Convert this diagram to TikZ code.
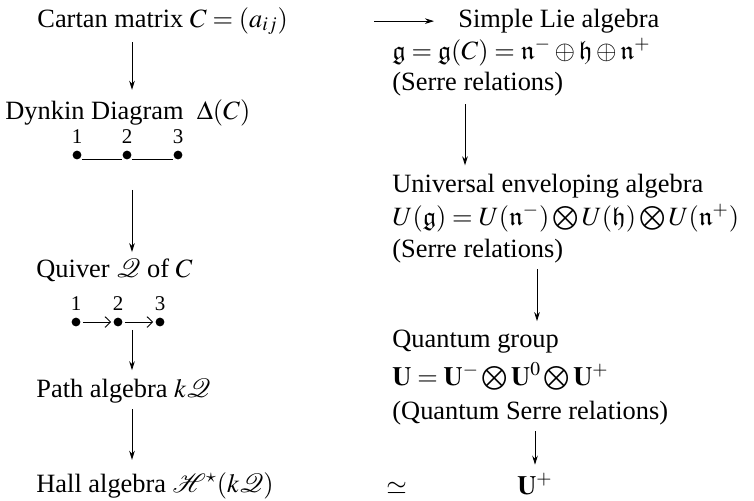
\documentclass[tikz,border=0pt]{standalone}
\usepackage{amssymb}
\usepackage{amsmath}
\usepackage{mathptmx}
\usepackage{fontspec}
\setmainfont{Liberation Serif}
\usetikzlibrary{arrows.meta, positioning, calc}
\tikzset{
  item_text/.style={font=\fontsize{13.2}{16}\selectfont, inner sep=0pt, anchor=base west},
  num_label/.style={font=\fontsize{10.5}{12}\selectfont, inner sep=0pt},
  vertex_dot/.style={circle, fill=black, inner sep=0pt, minimum size=4.4pt},
  map_arrow/.style={-{Stealth[length=4.5pt, width=2.8pt]}, line width=0.45pt, black},
  quiver_arrow/.style={-{Straight Barb[length=2.8pt, width=5.4pt]}, line width=0.45pt, shorten <=1pt, shorten >=1pt},
  dynkin_edge/.style={-, line width=0.4pt}
}

\begin{document}
\begin{tikzpicture}[x=0.5pt, y=-0.5pt]

  % --- Frame ---
  \useasboundingbox (0,0) rectangle (754,500);

  % --- Columns of the vertical maps ---
  \coordinate (colL) at (132,0);
  \coordinate (colR) at (465,0);
  \coordinate (colQ) at (537,0);

  % --- Left column ---
  \node[item_text] (cartan) at (37,27) {Cartan matrix $C=(a_{ij})$};
  \node[item_text] (dynkin) at (5,119) {Dynkin Diagram\ \ $\Delta(C)$};

  % Dynkin diagram A_3
  \foreach \i/\x in {1/77, 2/127, 3/178} {
    \node[vertex_dot] (dyn-\i) at (\x,155) {};
    \node[num_label, above=3pt of dyn-\i] (dynlab-\i) {\i};
  }
  \draw[dynkin_edge] ([yshift=-2pt]dyn-1.east) -- ([yshift=-2pt]dyn-2.west);
  \draw[dynkin_edge] ([yshift=-2pt]dyn-2.east) -- ([yshift=-2pt]dyn-3.west);

  \node[item_text] (quiver) at (36,277) {Quiver $\mathcal{Q}$ of $C$};

  % Quiver 1 -> 2 -> 3
  \foreach \i/\x in {1/76, 2/118, 3/160} {
    \node[vertex_dot] (qv-\i) at (\x,322) {};
    \node[num_label, above=3pt of qv-\i] (qvlab-\i) {\i};
  }
  \draw[quiver_arrow] (qv-1) -- (qv-2);
  \draw[quiver_arrow] (qv-2) -- (qv-3);

  \node[item_text] (path) at (36,397) {Path algebra $k\mathcal{Q}$};
  \node[item_text] (hall) at (36,492) {Hall algebra $\mathcal{H}^{\star}(k\mathcal{Q})$};

  % --- Right column ---
  \node[item_text] (simple) at (458,27) {Simple Lie algebra};
  \node[item_text] (liealg) at (392,59) {$\mathfrak{g}=\mathfrak{g}(C)=\mathfrak{n}^{-}\oplus\mathfrak{h}\oplus\mathfrak{n}^{+}$};
  \node[item_text] (serreA) at (392,90) {(Serre relations)};
  \node[item_text] (univ) at (392,192) {Universal enveloping algebra};
  \node[item_text] (envalg) at (392,225) {$U(\mathfrak{g})=U(\mathfrak{n}^{-})\bigotimes U(\mathfrak{h})\bigotimes U(\mathfrak{n}^{+})$};
  \node[item_text] (serreB) at (392,257) {(Serre relations)};
  \node[item_text] (quantum) at (392,347) {Quantum group};
  \node[item_text] (qgroup) at (392,385) {$\mathbf{U}=\mathbf{U}^{-}\bigotimes\mathbf{U}^{0}\bigotimes\mathbf{U}^{+}$};
  \node[item_text] (qserre) at (392,419) {(Quantum Serre relations)};
  \node[item_text] (iso) at (386,494) {$\simeq$};
  \node[item_text, anchor=base] (uplus) at (535,494) {$\mathbf{U}^{+}$};

  % --- Maps ---
  \draw[map_arrow, shorten <=3.5pt, shorten >=4.5pt] (cartan.south -| colL) -- (dynkin.north -| colL);
  \draw[map_arrow, shorten <=15pt, shorten >=3pt] (dyn-2.south -| colL) -- (quiver.north -| colL);
  \draw[map_arrow, shorten <=1.5pt, shorten >=4pt] (qv-2.south -| colL) -- (path.north -| colL);
  \draw[map_arrow, shorten <=3pt, shorten >=6pt] (path.south -| colL) -- (hall.north -| colL);

  \draw[map_arrow, shorten <=43pt, shorten >=12pt] (cartan.east) -- (cartan.east -| simple.west);

  \draw[map_arrow, shorten <=4pt, shorten >=4pt] (serreA.south -| colR) -- (univ.north -| colR);
  \draw[map_arrow, shorten <=3pt, shorten >=4pt] (serreB.south -| colQ) -- (quantum.north -| colQ);
  \draw[map_arrow, shorten <=3pt, shorten >=4pt] (qserre.south -| uplus) -- (uplus.north);

\end{tikzpicture}
\end{document}
